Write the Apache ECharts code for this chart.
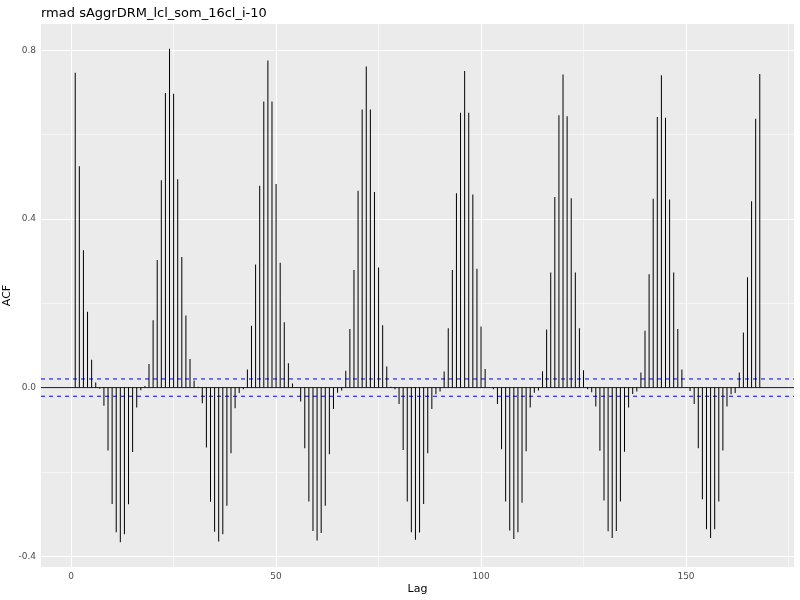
<!DOCTYPE html>
<html>
<head>
<meta charset="utf-8">
<script src="https://cdn.jsdelivr.net/npm/echarts@6/dist/echarts.min.js"></script>
<style>
  html, body { margin: 0; padding: 0; background: #fff; }
  #root { width: 800px; height: 600px; }
</style>
</head>
<body>
<div id="root"></div>
<script>
// autocorrelation per lag, lags 1..168
var acfValues = [
  0.747, 0.525, 0.326, 0.180, 0.066, 0.012, -0.003, -0.043, -0.149, -0.276, -0.343, -0.367,
  -0.348, -0.277, -0.153, -0.047, -0.006, 0.004, 0.056, 0.160, 0.303, 0.492, 0.699, 0.804,
  0.697, 0.494, 0.310, 0.171, 0.068, 0.017, 0.002, -0.037, -0.142, -0.271, -0.342, -0.365,
  -0.348, -0.280, -0.156, -0.049, -0.013, -0.004, 0.043, 0.147, 0.292, 0.479, 0.679, 0.776,
  0.679, 0.483, 0.296, 0.155, 0.058, 0.010, 0.001, -0.033, -0.144, -0.270, -0.340, -0.363,
  -0.345, -0.280, -0.158, -0.051, -0.012, -0.007, 0.040, 0.139, 0.279, 0.467, 0.660, 0.762,
  0.660, 0.464, 0.285, 0.148, 0.050, 0.002, -0.004, -0.039, -0.148, -0.270, -0.343, -0.361,
  -0.344, -0.276, -0.156, -0.051, -0.016, -0.009, 0.038, 0.141, 0.279, 0.461, 0.652, 0.751,
  0.652, 0.458, 0.282, 0.145, 0.044, 0.001, -0.004, -0.039, -0.146, -0.270, -0.339, -0.359,
  -0.343, -0.273, -0.151, -0.047, -0.012, -0.007, 0.039, 0.138, 0.273, 0.452, 0.646, 0.743,
  0.644, 0.449, 0.273, 0.141, 0.041, -0.004, -0.011, -0.045, -0.150, -0.268, -0.341, -0.357,
  -0.340, -0.270, -0.152, -0.047, -0.015, -0.009, 0.036, 0.135, 0.269, 0.448, 0.642, 0.741,
  0.640, 0.446, 0.273, 0.139, 0.043, 0.000, -0.008, -0.039, -0.144, -0.265, -0.336, -0.357,
  -0.336, -0.270, -0.149, -0.045, -0.016, -0.013, 0.036, 0.131, 0.262, 0.442, 0.638, 0.744
]
var ciBound = 0.0205

var xTicks = [0, 50, 100, 150]
var xMinorTicks = [25, 75, 125, 175]
var yTicks = [-0.4, 0.0, 0.4, 0.8]
var yMinorTicks = [-0.2, 0.2, 0.6]
var xRange = [-7.35, 176.35]
var yRange = [-0.4256, 0.8626]

var acfData = acfValues.map(function (v, i) { return [i + 1, v] })

var gridLines = []
xTicks.forEach(function (v) { gridLines.push({ xAxis: v, lineStyle: { width: 1.1 } }) })
xMinorTicks.forEach(function (v) { gridLines.push({ xAxis: v, lineStyle: { width: 0.55 } }) })
yTicks.forEach(function (v) { gridLines.push({ yAxis: v, lineStyle: { width: 1.1 } }) })
yMinorTicks.forEach(function (v) { gridLines.push({ yAxis: v, lineStyle: { width: 0.55 } }) })

// horizontal reference line across the whole panel
function hline(y, color, type) {
  return {
    type: 'line',
    z: 2,
    data: [[xRange[0], y], [xRange[1], y]],
    symbol: 'none',
    silent: true,
    lineStyle: { color: color, type: type, width: 1 }
  }
}

var chart = echarts.init(document.getElementById('root'))
var labelStyle = { color: '#4D4D4D', fontSize: 9, fontFamily: 'DejaVu Sans' }

chart.setOption({
  animation: false,
  title: {
    text: 'rmad sAggrDRM_lcl_som_16cl_i-10',
    left: 36,
    top: 2,
    textStyle: { color: '#000', fontSize: 13, fontWeight: 'normal', fontFamily: 'DejaVu Sans' }
  },
  grid: {
    left: 41, right: 6, top: 24, bottom: 33,
    outerBoundsMode: 'none',
    containLabel: false,
    show: true, backgroundColor: '#EBEBEB', borderWidth: 0
  },
  xAxis: {
    type: 'value',
    min: xRange[0], max: xRange[1],
    name: 'Lag', nameLocation: 'middle', nameGap: 17, nameMoveOverlap: false,
    nameTextStyle: { color: '#000', fontSize: 11, fontFamily: 'DejaVu Sans' },
    axisLine: { show: false },
    splitLine: { show: false },
    axisTick: { show: true, length: 3, customValues: xTicks, lineStyle: { color: '#333', width: 1 } },
    axisLabel: Object.assign({ customValues: xTicks, margin: 5 }, labelStyle)
  },
  yAxis: {
    type: 'value',
    min: yRange[0], max: yRange[1],
    name: 'ACF', nameLocation: 'middle', nameGap: 28, nameRotate: 90, nameMoveOverlap: false,
    nameTextStyle: { color: '#000', fontSize: 11, fontFamily: 'DejaVu Sans' },
    axisLine: { show: false },
    splitLine: { show: false },
    axisTick: { show: true, length: 3, customValues: yTicks, lineStyle: { color: '#333', width: 1 } },
    axisLabel: Object.assign({
      customValues: yTicks, margin: 5,
      formatter: function (v) { return v.toFixed(1) }
    }, labelStyle)
  },
  series: [
    {
      // panel grid lines, kept under the marks (markLine z defaults to 5)
      type: 'line',
      z: 1,
      data: [],
      symbol: 'none',
      silent: true,
      markLine: {
        z: 1,
        silent: true,
        symbol: 'none',
        label: { show: false },
        lineStyle: { color: '#fff', type: 'solid' },
        data: gridLines
      }
    },
    hline(0, '#1a1a1a', 'solid'),
    hline(ciBound, '#0000FF', [4, 4]),
    hline(-ciBound, '#0000FF', [4, 4]),
    {
      type: 'bar',
      z: 3,
      data: acfData,
      barWidth: 1,
      itemStyle: { color: '#000' },
      silent: true
    }
  ]
})
</script>
</body>
</html>
